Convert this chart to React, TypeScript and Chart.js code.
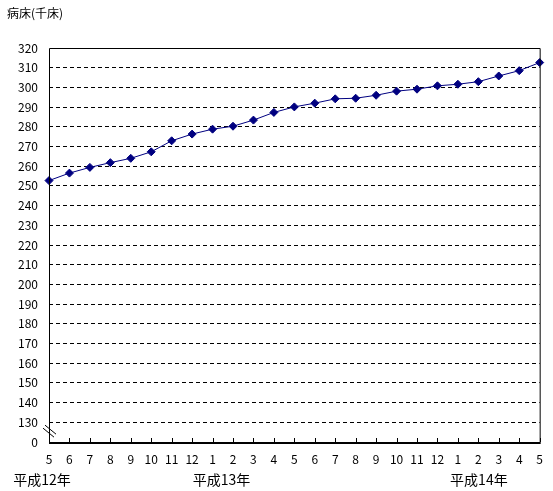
import React, { useEffect, useRef } from "react";
import { Chart, registerables } from "chart.js";

Chart.register(...registerables);

const months: string[] = ["5","6","7","8","9","10","11","12","1","2","3","4","5","6","7","8","9","10","11","12","1","2","3","4","5"];
const beds: number[] = [252.7, 256.5, 259.4, 261.8, 264.0, 267.3, 272.9, 276.3, 278.8, 280.3, 283.4, 287.3, 290.1, 292.0, 294.2, 294.5, 296.0, 298.1, 299.1, 300.8, 301.6, 302.9, 305.8, 308.5, 312.6];
const yearLabels: string[] = ["平成12年", "平成13年", "平成14年"];
const yearLabelIndex: number[] = [0, 8, 20];
const yAxisTitle = "病床(千床)";
const yMin = 120;
const yMax = 320;
const yStep = 10;

const FONT = "'Noto Sans CJK JP', 'DejaVu Sans', sans-serif";

export default function App() {
  const ref = useRef<HTMLCanvasElement | null>(null);
  useEffect(() => {
    if (!ref.current) return;
    const decor = {
      id: "decor",
      afterDraw(chart: any) {
        const { ctx, chartArea } = chart;
        const { left, right, top, bottom } = chartArea;
        const xs = chart.scales.x;
        ctx.save();
        ctx.strokeStyle = "#000";
        // frame
        ctx.lineWidth = 1;
        ctx.beginPath();
        ctx.moveTo(left + 0.5, bottom);
        ctx.lineTo(left + 0.5, top + 0.5);
        ctx.lineTo(right + 0.5, top + 0.5);
        ctx.lineTo(right + 0.5, bottom);
        ctx.stroke();
        ctx.lineWidth = 2;
        ctx.beginPath();
        ctx.moveTo(left, bottom + 1);
        ctx.lineTo(right + 1, bottom + 1);
        ctx.stroke();
        // x tick marks inside
        ctx.lineWidth = 1;
        ctx.beginPath();
        for (let i = 0; i < months.length; i++) {
          const px = Math.round(xs.getPixelForValue(i)) + 0.5;
          ctx.moveTo(px, bottom);
          ctx.lineTo(px, bottom - 4);
        }
        ctx.stroke();
        // axis break symbol
        const ys = chart.scales.y;
        const by = (ys.getPixelForValue(130) + ys.getPixelForValue(120)) / 2;
        ctx.lineWidth = 1;
        ctx.beginPath();
        ctx.moveTo(left - 6, by - 4);
        ctx.lineTo(left + 5, by + 5);
        ctx.moveTo(left - 4, by - 7);
        ctx.lineTo(left + 7, by + 2);
        ctx.stroke();
        // year labels
        ctx.fillStyle = "#000";
        ctx.font = `14px ${FONT}`;
        ctx.textAlign = "center";
        ctx.textBaseline = "middle";
        const offs = [-7, 9, 21];
        yearLabels.forEach((t, k) => {
          const px = xs.getPixelForValue(yearLabelIndex[k]) + offs[k];
          ctx.fillText(t, px, 480);
        });
        // y title
        ctx.textAlign = "left";
        ctx.font = `12px ${FONT}`;
        ctx.fillText(yAxisTitle, 7, 13);
        ctx.restore();
      },
    };
    const chart = new Chart(ref.current, {
      type: "line",
      data: {
        labels: months,
        datasets: [
          {
            data: beds,
            borderColor: "#000080",
            backgroundColor: "#000080",
            borderWidth: 1,
            pointStyle: "rectRot",
            pointRadius: 4,
            pointBorderWidth: 1,
            pointBorderColor: "#000080",
            pointBackgroundColor: "#000080",
            tension: 0,
            clip: false,
          } as any,
        ],
      },
      options: {
        responsive: false,
        animation: false,
        layout: { padding: { top: 48, right: 8, left: 0, bottom: 0 } },
        plugins: { legend: { display: false }, tooltip: { enabled: false }, title: { display: false } },
        scales: {
          x: {
            type: "category",
            offset: false,
            afterFit(scale: any) { scale.height = 49; },
            grid: { display: false, drawTicks: false },
            border: { display: false },
            ticks: { color: "#000", font: { family: FONT, size: 12 }, padding: 10, autoSkip: false, maxRotation: 0 },
          },
          y: {
            min: yMin,
            max: yMax,
            afterFit(scale: any) { scale.width = 49; },
            grid: {
              drawTicks: false,
              color: (c: any) => (c.tick && (c.tick.value === yMin || c.tick.value === yMax) ? "rgba(0,0,0,0)" : "#000"),
              lineWidth: 1,
            },
            border: { display: false, dash: [4, 3] },
            ticks: {
              stepSize: yStep,
              color: "#000",
              padding: 11,
              font: { family: FONT, size: 12 },
              callback: (v: any) => (v === yMin ? "0" : String(v)),
            },
          },
        },
      },
      plugins: [decor],
    });
    return () => chart.destroy();
  }, []);
  return (
    <div style={{ position: "absolute", left: 0, top: 0, width: 553, height: 491, background: "#fff" }}>
      <canvas ref={ref} width={553} height={491} style={{ width: 553, height: 491, display: "block" }} />
    </div>
  );
}
